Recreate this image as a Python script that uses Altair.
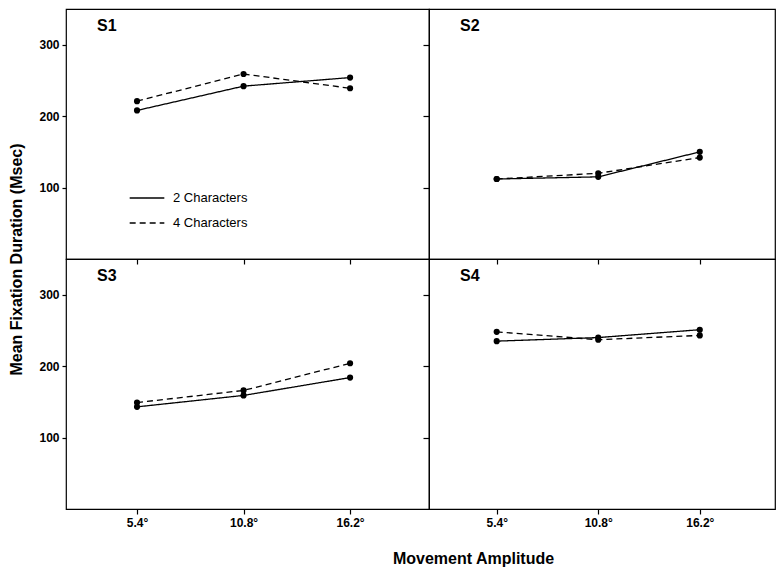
import altair as alt
import pandas as pd

FONT = "Liberation Sans"

subjects = ["S1", "S2", "S3", "S4"]
amplitudes = [5.4, 10.8, 16.2]
series_names = ["2 Characters", "4 Characters"]

s1_two = [208, 242, 254]
s1_four = [221, 259, 239]
s2_two = [112, 115, 150]
s2_four = [112, 120, 142]
s3_two = [143, 159, 184]
s3_four = [149, 166, 204]
s4_two = [235, 240, 251]
s4_four = [248, 237, 243]

x_ticks = [5.4, 10.8, 16.2]
y_ticks = [100, 200, 300]

x_domain = [1.8, 20.2]
y_domain = [0, 350]


def make_panel(subject, two, four, width, is_left, is_bottom):
    df = pd.DataFrame({
        "amplitude": amplitudes + amplitudes,
        "duration": two + four,
        "series": [series_names[0]] * len(amplitudes) + [series_names[1]] * len(amplitudes),
    })
    xkw = dict(values=x_ticks, labels=is_bottom, ticks=True, tickSize=5, tickColor="black",
               tickWidth=1.2, domain=False, grid=False, labelFont=FONT, labelFontSize=12,
               labelFontWeight="bold", labelColor="black", labelPadding=3,
               labelExpr="format(datum.value, '.1f') + '°'")
    if subject == "S4":
        xkw.update(title="Movement Amplitude", titleX=44, titleAlign="center",
                   titleFont=FONT, titleFontSize=16, titleFontWeight="bold",
                   titleColor="black", titlePadding=22)
    else:
        xkw.update(title="")
    ykw = dict(values=y_ticks, labels=is_left, ticks=True, tickSize=4 if is_left else 6,
               tickColor="black", tickWidth=1.2, domain=False, grid=False, labelFont=FONT,
               labelFontSize=12, labelFontWeight="bold", labelColor="black", labelPadding=3)
    if subject == "S3":
        ykw.update(title="Mean Fixation Duration (Msec)", titleY=0, titleAlign="center",
                   titleFont=FONT, titleFontSize=16, titleFontWeight="bold",
                   titleColor="black", titlePadding=14)
    else:
        ykw.update(title="")

    x = alt.X("amplitude:Q", scale=alt.Scale(domain=x_domain, nice=False, zero=False),
              axis=alt.Axis(**xkw))
    y = alt.Y("duration:Q", scale=alt.Scale(domain=y_domain, nice=False),
              axis=alt.Axis(**ykw))
    dash = alt.StrokeDash(
        "series:N",
        scale=alt.Scale(domain=series_names, range=[[1, 0], [6, 4]]),
        legend=alt.Legend(orient="none", legendX=63, legendY=171, title=None,
                          symbolType="stroke", symbolSize=1200, symbolStrokeWidth=1.3,
                          symbolStrokeColor="black", labelFont=FONT, labelFontSize=13,
                          labelColor="black", labelOffset=8, rowPadding=0, padding=0),
    )
    lines = alt.Chart(df).mark_line(color="black", strokeWidth=1.3).encode(
        x=x, y=y, strokeDash=dash)
    points = alt.Chart(df).mark_circle(color="black", size=38, opacity=1).encode(x=x, y=y)
    label = alt.Chart(pd.DataFrame({"name": [subject]})).mark_text(
        font=FONT, fontSize=16, fontWeight="bold", color="black", align="left",
        baseline="middle").encode(text="name:N", x=alt.value(31), y=alt.value(17))
    return alt.layer(lines, points, label).properties(width=width, height=250)


p1 = make_panel("S1", s1_two, s1_four, 363, True, False)
p2 = make_panel("S2", s2_two, s2_four, 346, False, False)
p3 = make_panel("S3", s3_two, s3_four, 363, True, True)
p4 = make_panel("S4", s4_two, s4_four, 346, False, True)

chart = alt.concat(p1, p2, p3, p4, columns=2, spacing=0, bounds="flush").properties(
    padding=0, background="white"
).configure_view(stroke="black", strokeWidth=1.2).configure_axis(domain=False, grid=False)

chart.save("out.html", embed_options={"renderer": "svg", "actions": False})
